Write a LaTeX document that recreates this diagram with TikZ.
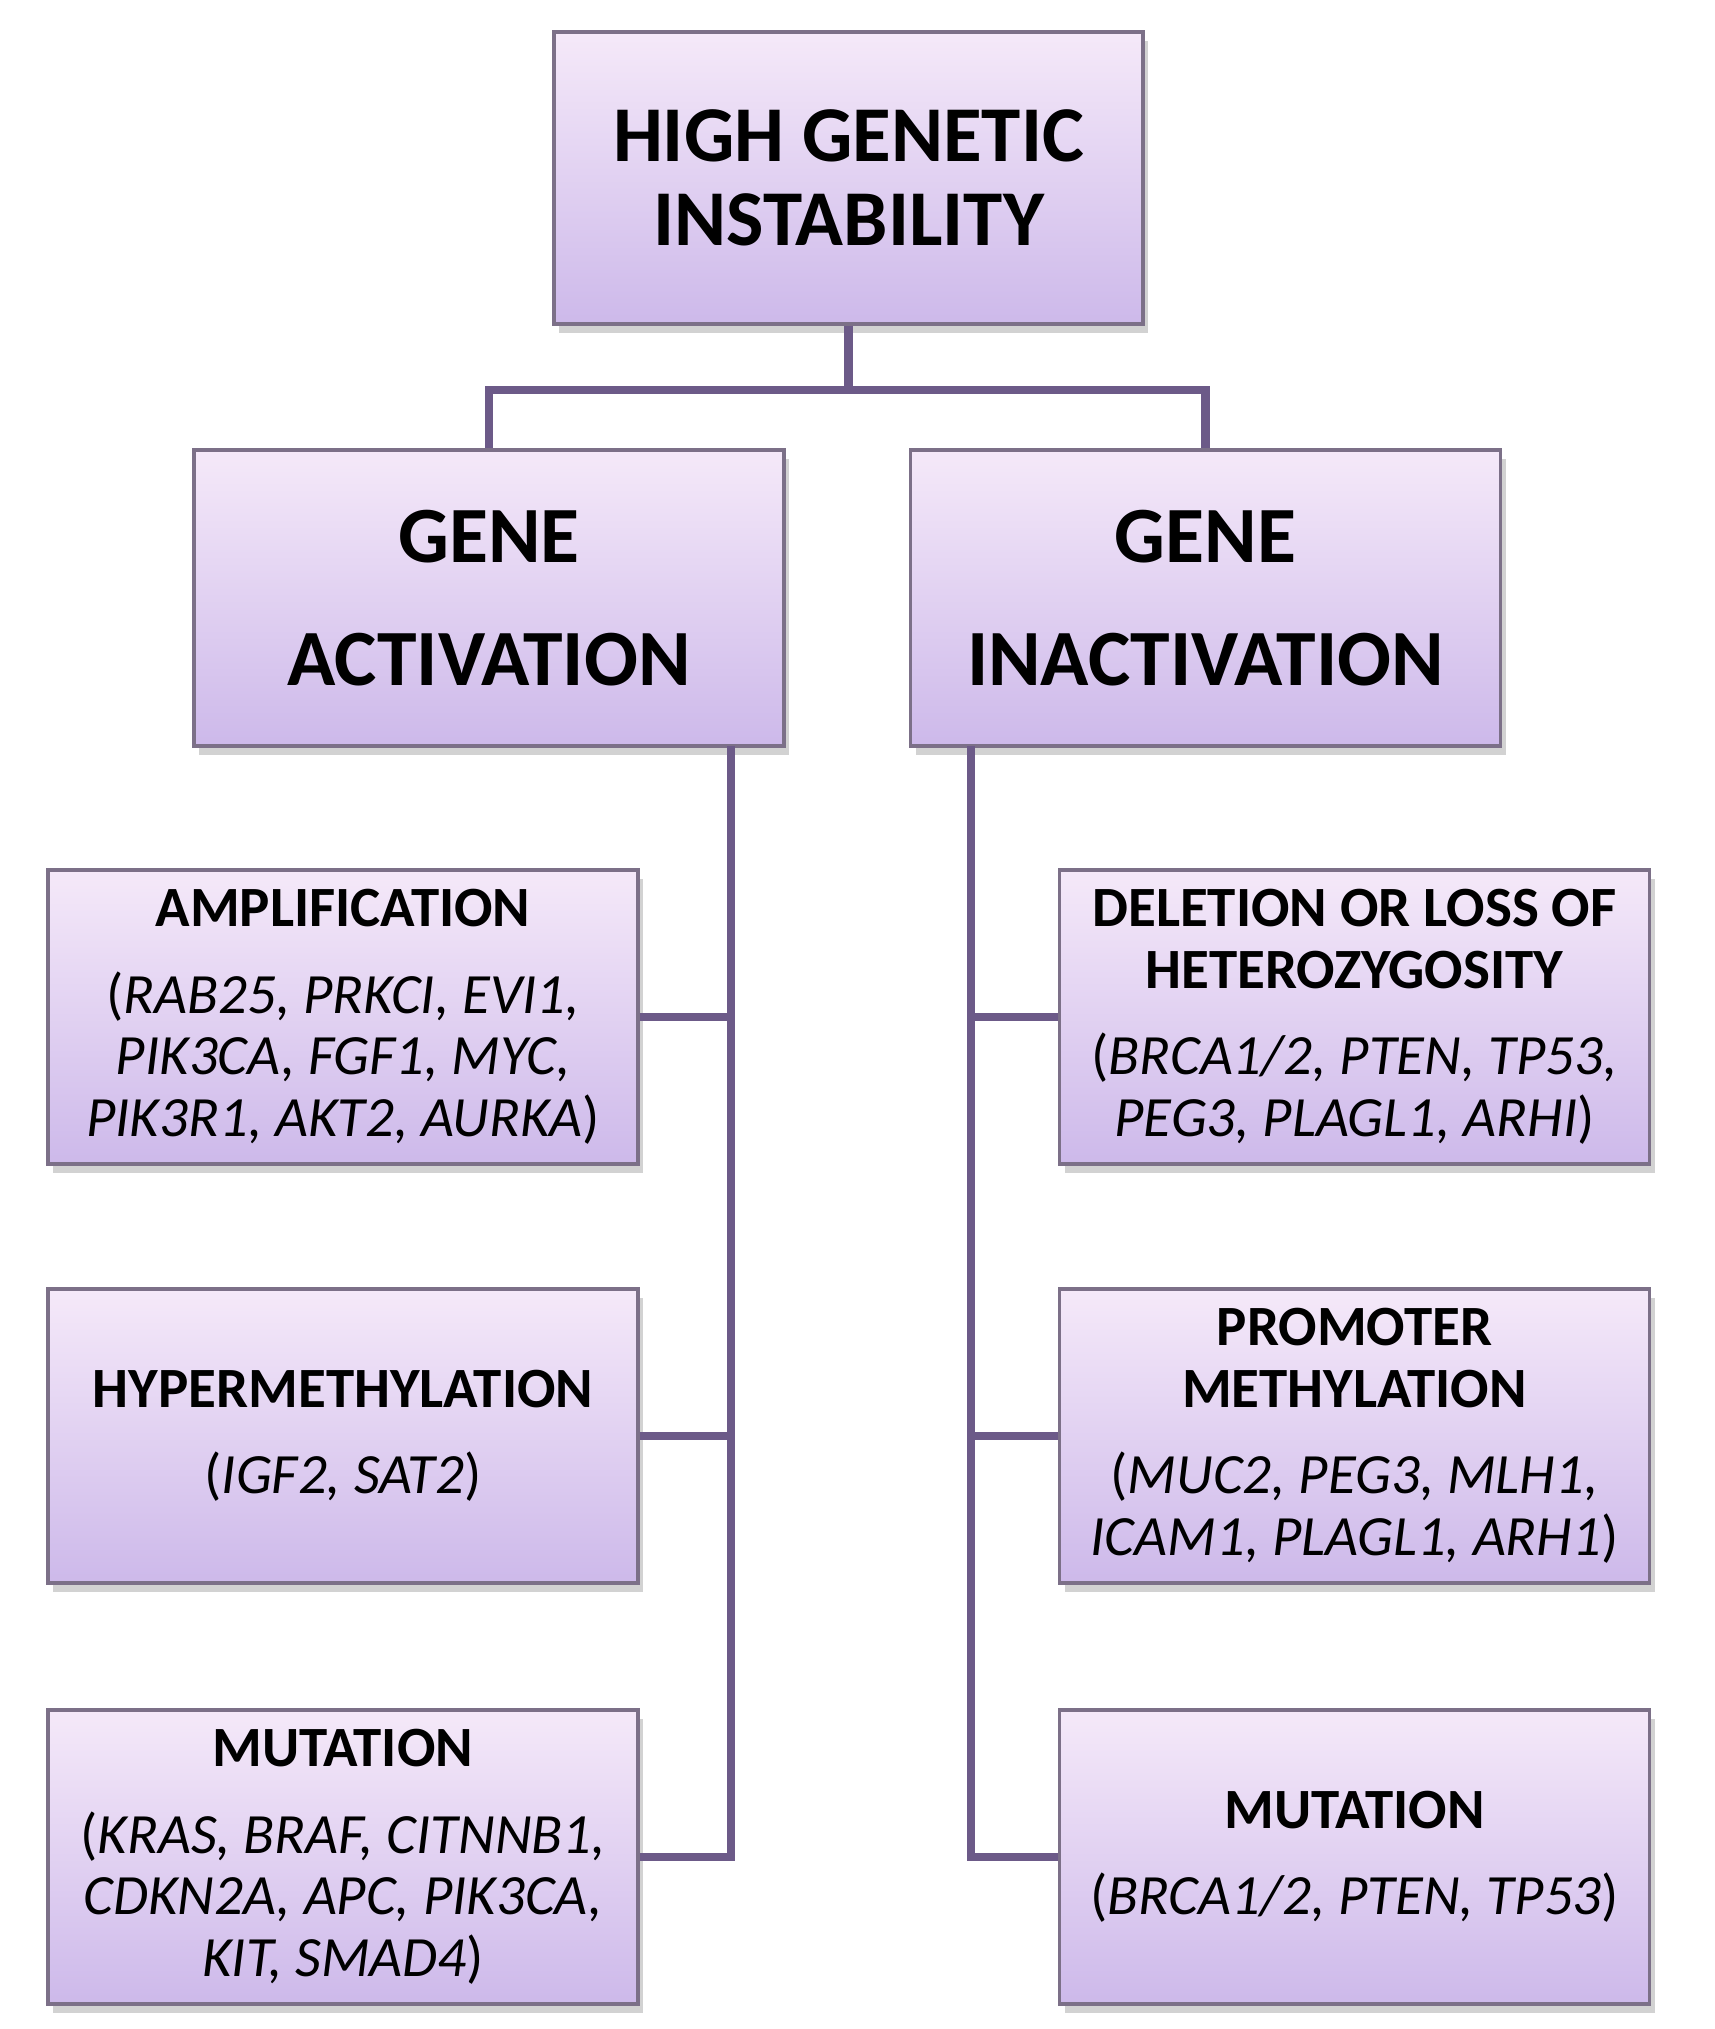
\documentclass[tikz,border=0pt]{standalone}
\usepackage{fontspec}
\setmainfont{Carlito}
\definecolor{lilactop}{HTML}{F5E9F9}
\definecolor{lilacbot}{HTML}{CDB9EA}
\definecolor{boxedge}{HTML}{7C7088}
\definecolor{wire}{HTML}{6C5A88}
\usetikzlibrary{calc, shadows}

\begin{document}
\begin{tikzpicture}[
  hibox/.style={draw=boxedge, line width=1pt, top color=lilactop, bottom color=lilacbot,
                drop shadow={shadow xshift=1.5pt, shadow yshift=-2.5pt, fill=black!50, opacity=0.35},
                align=center, inner sep=0pt},
  rootbox/.style={hibox, minimum width=5.89cm, minimum height=2.92cm,
                  font=\fontsize{22.5}{24}\selectfont\bfseries},
  genebox/.style={hibox, minimum width=5.9cm, minimum height=2.96cm,
                  font=\fontsize{22.7}{35}\selectfont\bfseries},
  subbox/.style={hibox, minimum width=5.9cm, minimum height=2.94cm,
                 font=\fontsize{16.2}{17.6}\selectfont},
  link/.style={draw=wire, line width=2.3pt},
]
\fill[white] (0,0) rectangle (17.15,-20.29);
\useasboundingbox (0,0) rectangle (17.15,-20.29);

% top level
\node[rootbox] (root) at (8.485,-1.78) {HIGH GENETIC\\INSTABILITY};

% two branches
\node[genebox] (act) at (4.89,-5.98) {GENE\\ACTIVATION};
\node[genebox] (inact) at (12.055,-5.98) {GENE\\INACTIVATION};

% activation side
\node[subbox] (amp) at (3.43,-10.17) {
  \textbf{AMPLIFICATION}\\[7pt]
  (\textit{RAB25, PRKCI, EVI1,}\\
  \textit{PIK3CA, FGF1, MYC,}\\
  \textit{PIK3R1, AKT2, AURKA})
};
\node[subbox] (hyper) at (3.43,-14.36) {
  \textbf{HYPERMETHYLATION}\\[7pt]
  (\textit{IGF2, SAT2})
};
\node[subbox] (mutl) at (3.43,-18.57) {
  \textbf{MUTATION}\\[7pt]
  (\textit{KRAS, BRAF, CITNNB1,}\\
  \textit{CDKN2A, APC, PIK3CA,}\\
  \textit{KIT, SMAD4})
};

% inactivation side
\node[subbox] (del) at (13.545,-10.17) {
  \textbf{DELETION OR LOSS OF}\\
  \textbf{HETEROZYGOSITY}\\[7pt]
  (\textit{BRCA1/2, PTEN, TP53,}\\
  \textit{PEG3, PLAGL1, ARHI})
};
\node[subbox] (prom) at (13.545,-14.36) {
  \textbf{PROMOTER}\\
  \textbf{METHYLATION}\\[7pt]
  (\textit{MUC2, PEG3, MLH1,}\\
  \textit{ICAM1, PLAGL1, ARH1})
};
\node[subbox] (mutr) at (13.545,-18.57) {
  \textbf{MUTATION}\\[7pt]
  (\textit{BRCA1/2, PTEN, TP53})
};

% connectors
\draw[link] (root.south) -- ++(0,-0.64) coordinate (fork);
\draw[link] (act.north) |- (fork) -| (inact.north);

\coordinate (lspine) at (7.31,-7.46);
\coordinate (rspine) at (9.71,-7.46);
\draw[link] (lspine) |- (mutl.east);
\draw[link] (amp.east) -- (amp.east -| lspine);
\draw[link] (hyper.east) -- (hyper.east -| lspine);
\draw[link] (rspine) |- (mutr.west);
\draw[link] (del.west) -- (del.west -| rspine);
\draw[link] (prom.west) -- (prom.west -| rspine);
\end{tikzpicture}
\end{document}
